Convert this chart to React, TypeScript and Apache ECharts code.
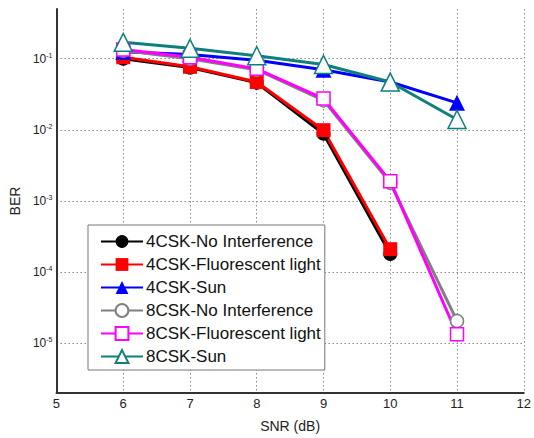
import React, { useEffect, useRef } from "react";
import * as echarts from "echarts";

const snr = [6, 7, 8, 9, 10, 11];
const cat4NoInt = [0.1, 0.075, 0.046, 0.0088, 0.00018];
const cat4Fluor = [0.105, 0.077, 0.047, 0.0099, 0.00021];
const cat4Sun = [0.125, 0.115, 0.095, 0.07, 0.047, 0.024];
const cat8NoInt = [0.13, 0.1, 0.07, 0.026, 0.0018, 0.0000206];
const cat8Fluor = [0.135, 0.105, 0.072, 0.0275, 0.0019, 0.0000134];
const cat8Sun = [0.17, 0.14, 0.11, 0.083, 0.047, 0.014];

const names = [
  "4CSK-No Interference",
  "4CSK-Fluorescent light",
  "4CSK-Sun",
  "8CSK-No Interference",
  "8CSK-Fluorescent light",
  "8CSK-Sun",
];
const xTicks = [5, 6, 7, 8, 9, 10, 11, 12];

const pair = (ys: number[]) => ys.map((y, i) => [snr[i], y]);

export default function App() {
  const ref = useRef<HTMLDivElement>(null);
  useEffect(() => {
    if (!ref.current) return;
    const chart = echarts.init(ref.current, null, { renderer: "svg" });
    const mk = (
      name: string,
      data: number[],
      color: string,
      symbol: string,
      size: number,
      filled: boolean
    ) => ({
      name,
      type: "line",
      data: pair(data),
      symbol,
      symbolSize: size,
      showAllSymbol: true,
      lineStyle: { color, width: 3 },
      itemStyle: {
        color: filled ? color : "#ffffff",
        borderColor: color,
        borderWidth: filled ? 0 : 1.5,
      },
      z: 2,
    });
    chart.setOption({
      animation: false,
      backgroundColor: "#ffffff",
      grid: { left: 55, top: 9, right: 7, bottom: 44, containLabel: false },
      legend: {
        orient: "vertical",
        left: 88,
        top: 225,
        data: names,
        backgroundColor: "#ffffff",
        borderColor: "#777777",
        borderWidth: 1,
        padding: [8, 4, 5, 12],
        itemGap: 6,
        itemWidth: 42,
        itemHeight: 16,
        textStyle: {
          fontFamily: "Liberation Sans, Arial, sans-serif",
          fontSize: 17,
          color: "#111111",
          padding: [0, 0, 0, -2],
        },
      },
      xAxis: {
        type: "value",
        min: 5,
        max: 12,
        interval: 1,
        name: "SNR (dB)",
        nameLocation: "middle",
        nameGap: 26,
        nameTextStyle: {
          fontFamily: "Liberation Sans, Arial, sans-serif",
          fontSize: 14,
          color: "#222222",
        },
        axisLine: { show: true, lineStyle: { color: "#333333", width: 2 } },
        axisTick: { show: false },
        axisLabel: {
          margin: 4,
          fontFamily: "Liberation Sans, Arial, sans-serif",
          fontSize: 13,
          color: "#222222",
          formatter: (v: number) => (xTicks.includes(v) ? String(v) : ""),
        },
        splitLine: {
          show: true,
          showMinLine: false,
          lineStyle: { color: "#888888", type: [1.5, 2.5], width: 1 },
        },
      },
      yAxis: {
        type: "log",
        logBase: 10,
        min: 2e-6,
        max: 0.5,
        name: "BER",
        nameLocation: "middle",
        nameGap: 31,
        nameTextStyle: {
          fontFamily: "Liberation Sans, Arial, sans-serif",
          fontSize: 14,
          color: "#222222",
        },
        axisLine: { show: true, lineStyle: { color: "#333333", width: 2 } },
        axisTick: { show: false },
        axisLabel: {
          margin: 4,
          showMinLabel: false,
          showMaxLabel: false,
          formatter: (v: number) => {
            const e = Math.round(Math.log10(v));
            return "{b|10}{s|" + e + "}";
          },
          rich: {
            b: {
              fontFamily: "Liberation Sans, Arial, sans-serif",
              fontSize: 12,
              color: "#222222",
            },
            s: {
              fontFamily: "Liberation Sans, Arial, sans-serif",
              fontSize: 7,
              color: "#222222",
              padding: [0, 0, 7, 0],
            },
          },
        },
        splitLine: {
          show: true,
          showMinLine: false,
          showMaxLine: false,
          lineStyle: { color: "#888888", type: [1.5, 2.5], width: 1 },
        },
      },
      series: [
        mk(names[0], cat4NoInt, "#000000", "circle", 14, true),
        mk(names[1], cat4Fluor, "#ff0000", "rect", 14, true),
        mk(names[2], cat4Sun, "#0000ff", "triangle", 16, true),
        mk(names[3], cat8NoInt, "#808080", "circle", 13, false),
        mk(names[4], cat8Fluor, "#ff00ff", "rect", 13, false),
        mk(names[5], cat8Sun, "#0e7f7c", "triangle", 18, false),
      ],
    });
    return () => chart.dispose();
  }, []);
  return (
    <div
      ref={ref}
      style={{ position: "fixed", left: 0, top: 0, width: 534, height: 438 }}
    />
  );
}
